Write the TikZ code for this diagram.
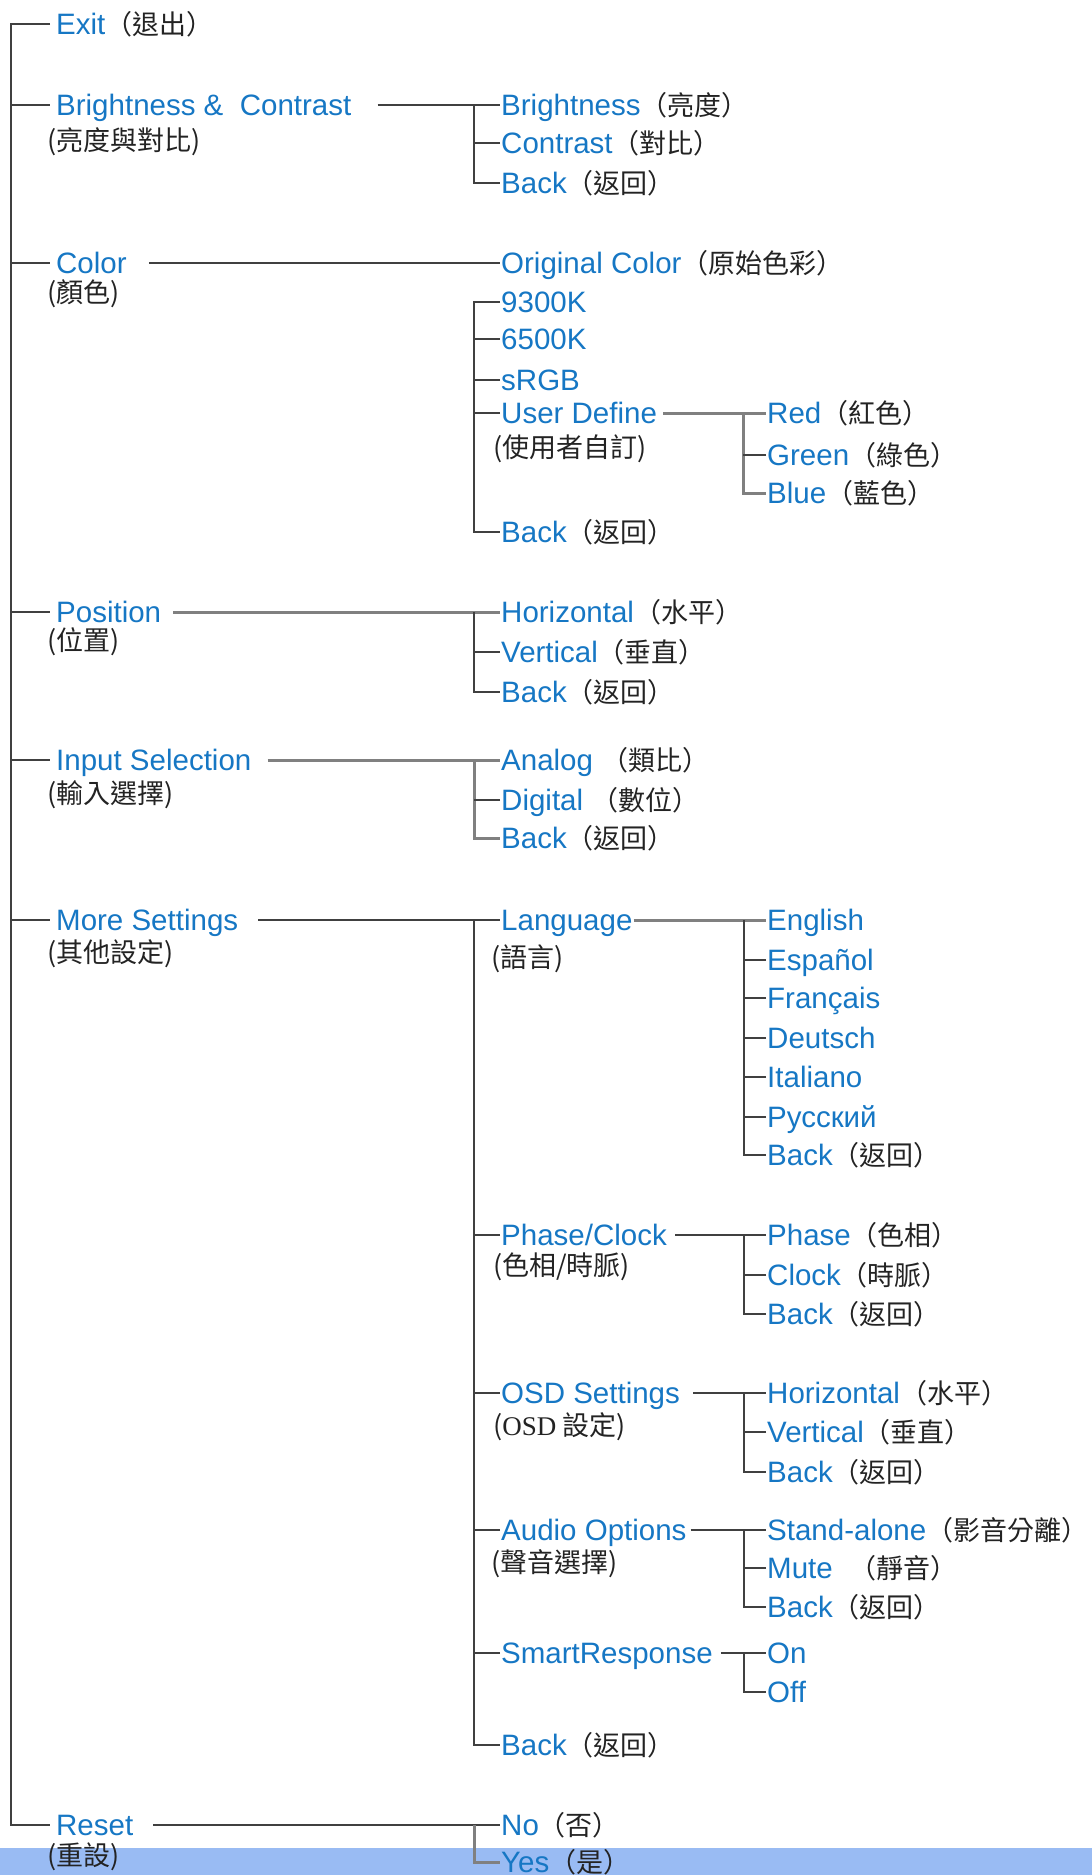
\documentclass[tikz,border=0pt]{standalone}
\usepackage{fontspec}
\setmainfont{Liberation Sans}
\newfontfamily\cjk{Noto Sans CJK TC}
\newfontfamily\serifl{Liberation Serif}
\usepackage{xcolor}
\definecolor{menublue}{RGB}{22,119,196}
\definecolor{zhtext}{RGB}{35,35,35}
\definecolor{band}{RGB}{153,187,243}
\newcommand{\zh}[1]{{\cjk\fontsize{27}{29}\selectfont\color{zhtext}（#1）}}

\begin{document}
\begin{tikzpicture}[
    x=1pt, y=-1pt,
    every node/.style={font=\fontsize{29.5}{31}\selectfont},
    item/.style={
        anchor=west,
        inner xsep=1pt,
        inner ysep=0pt,
        text height=21pt,
        text depth=0pt,
        text=menublue
    },
    top/.style={item, inner xsep=6pt},
    zhsub/.style={
        anchor=base west,
        inner sep=0pt,
        text=zhtext,
        font=\cjk\fontsize{27}{29}\selectfont
    },
    tree/.style={draw=black!75, line width=2.6pt},
    treelt/.style={draw=black!50, line width=3pt}
]
\useasboundingbox (0,0) rectangle (1092,1875);
\fill[band] (0,1848) rectangle (1092,1875);

% main menu
\node[top] (exit) at (50,24) {Exit\zh{退出}};
\node[top] (bc) at (50,105) {Brightness \&\ \ Contrast};
\node[zhsub] (bczh) at (47,150) {(亮度與對比)};
\node[top] (color) at (50,263) {Color};
\node[zhsub] (colorzh) at (47,302) {(顏色)};
\node[top] (pos) at (50,612) {Position};
\node[zhsub] (poszh) at (47,650) {(位置)};
\node[top] (input) at (50,760) {Input Selection};
\node[zhsub] (inputzh) at (47,803) {(輸入選擇)};
\node[top] (more) at (50,920) {More Settings};
\node[zhsub] (morezh) at (47,962) {(其他設定)};
\node[top] (reset) at (50,1825) {Reset};
\node[zhsub] (resetzh) at (47,1865) {(重設)};

% brightness & contrast
\node[item] (bright) at (500,105) {Brightness\zh{亮度}};
\node[item] (contr) at (500,143) {Contrast\zh{對比}};
\node[item] (bcback) at (500,183) {Back\zh{返回}};

% color
\node[item] (orig) at (500,263) {Original Color\zh{原始色彩}};
\node[item] (k93) at (500,302) {9300K};
\node[item] (k65) at (500,339) {6500K};
\node[item] (srgb) at (500,380) {sRGB};
\node[item] (user) at (500,413) {User Define};
\node[zhsub] (userzh) at (493,457) {(使用者自訂)};
\node[item] (cback) at (500,532) {Back\zh{返回}};
\node[item] (red) at (766,413) {Red\zh{紅色}};
\node[item] (green) at (766,455) {Green\zh{綠色}};
\node[item] (blue) at (766,493) {Blue\zh{藍色}};

% position
\node[item] (horiz) at (500,612) {Horizontal\zh{水平}};
\node[item] (vert) at (500,652) {Vertical\zh{垂直}};
\node[item] (pback) at (500,692) {Back\zh{返回}};

% input selection
\node[item] (analog) at (500,760) {Analog\ \zh{類比}};
\node[item] (digital) at (500,800) {Digital\ \zh{數位}};
\node[item] (iback) at (500,838) {Back\zh{返回}};

% more settings
\node[item] (lang) at (500,920) {Language};
\node[zhsub] (langzh) at (491,967) {(語言)};
\node[item] (phcl) at (500,1235) {Phase/Clock};
\node[zhsub] (phclzh) at (493,1275) {(色相/時脈)};
\node[item] (osd) at (500,1393) {OSD Settings};
\node[zhsub] (osdzh) at (493,1435) {({\serifl OSD} 設定)};
\node[item] (audio) at (500,1530) {Audio Options};
\node[zhsub] (audiozh) at (491,1572) {(聲音選擇)};
\node[item] (smart) at (500,1653) {SmartResponse};
\node[item] (mback) at (500,1745) {Back\zh{返回}};

\node[item] (eng) at (766,920) {English};
\node[item] (esp) at (766,960) {Español};
\node[item] (fra) at (766,998) {Français};
\node[item] (deu) at (766,1038) {Deutsch};
\node[item] (ita) at (766,1077) {Italiano};
\node[item] (rus) at (766,1117) {Русский};
\node[item] (lback) at (766,1155) {Back\zh{返回}};

\node[item] (phase) at (766,1235) {Phase\zh{色相}};
\node[item] (clock) at (766,1275) {Clock\zh{時脈}};
\node[item] (phback) at (766,1314) {Back\zh{返回}};

\node[item] (ohoriz) at (766,1393) {Horizontal\zh{水平}};
\node[item] (overt) at (766,1432) {Vertical\zh{垂直}};
\node[item] (oback) at (766,1472) {Back\zh{返回}};

\node[item] (stand) at (766,1530) {Stand-alone\zh{影音分離}};
\node[item] (mute) at (766,1568) {Mute\ \ \zh{靜音}};
\node[item] (aback) at (766,1607) {Back\zh{返回}};

\node[item] (on) at (766,1653) {On};
\node[item] (off) at (766,1692) {Off};

% reset
\node[item] (no) at (500,1825) {No\zh{否}};
\node[item] (yes) at (500,1862) {Yes\zh{是}};

% trunk
\coordinate (trunk) at (11,0);
\draw[tree] (exit.west) -- (exit.west -| trunk) -- (reset.west -| trunk) -- (reset.west);
\foreach \n in {bc,color,pos,input,more}
    \draw[tree] (\n.west -| trunk) -- (\n.west);

% branches
\draw[tree] ([xshift=20pt]bc.east) -- (bright.west);
\draw[tree] (bright.west) ++(-26,0) |- (bcback.west);
\draw[tree] (contr.west) -- ++(-26,0);

\draw[tree] ([xshift=16pt]color.east) -- (orig.west);
\draw[tree] (k93.west) -- ++(-26,0) |- (cback.west);
\foreach \n in {k65,srgb,user}
    \draw[tree] (\n.west) -- ++(-26,0);

\draw[treelt] ([xshift=5pt]user.east) -- (red.west);
\draw[treelt] (red.west) ++(-23,0) |- (blue.west);
\draw[tree] (green.west) -- ++(-23,0);

\draw[treelt] ([xshift=6pt]pos.east) -- (horiz.west);
\draw[tree] (horiz.west) ++(-26,0) |- (pback.west);
\draw[tree] (vert.west) -- ++(-26,0);

\draw[treelt] ([xshift=10pt]input.east) -- (analog.west);
\draw[treelt] (analog.west) ++(-26,0) |- (iback.west);
\draw[tree] (digital.west) -- ++(-26,0);

\draw[tree] ([xshift=14pt]more.east) -- (lang.west);
\draw[tree] (lang.west) ++(-26,0) |- (mback.west);
\foreach \n in {phcl,osd,audio,smart}
    \draw[tree] (\n.west) -- ++(-26,0);

\draw[treelt] (lang.east) -- (eng.west);
\draw[tree] (eng.west) ++(-22,0) |- (lback.west);
\foreach \n in {esp,fra,deu,ita,rus}
    \draw[tree] (\n.west) -- ++(-22,0);

\draw[tree] ([xshift=7pt]phcl.east) -- (phase.west);
\draw[tree] (phase.west) ++(-22,0) |- (phback.west);
\draw[tree] (clock.west) -- ++(-22,0);

\draw[tree] ([xshift=12pt]osd.east) -- (ohoriz.west);
\draw[tree] (ohoriz.west) ++(-22,0) |- (oback.west);
\draw[tree] (overt.west) -- ++(-22,0);

\draw[tree] ([xshift=3pt]audio.east) -- (stand.west);
\draw[tree] (stand.west) ++(-22,0) |- (aback.west);
\draw[tree] (mute.west) -- ++(-22,0);

\draw[tree] ([xshift=7pt]smart.east) -- (on.west);
\draw[tree] (on.west) ++(-22,0) |- (off.west);

\draw[tree] ([xshift=14pt]reset.east) -- (no.west);
\draw[treelt] (no.west) ++(-26,0) |- (yes.west);
\end{tikzpicture}
\end{document}
